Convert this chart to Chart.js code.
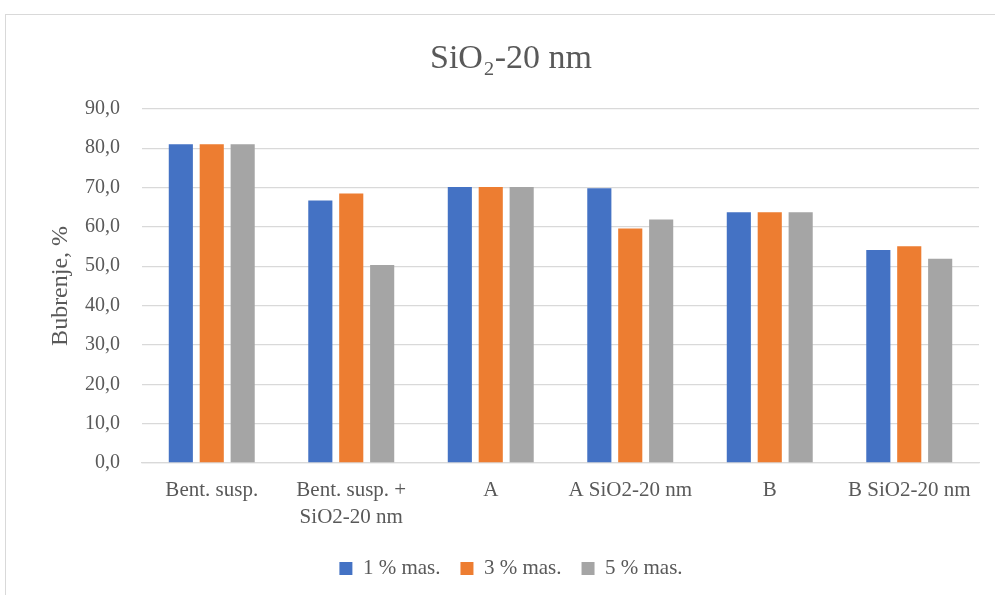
<!DOCTYPE html>
<html>
<head>
<meta charset="utf-8">
<script src="https://cdn.jsdelivr.net/npm/chart.js@4"></script>
<style>
  html, body { margin: 0; padding: 0; overflow: hidden; background: #fff; }
  #wrap { position: relative; width: 995px; height: 595px; overflow: hidden; }
  canvas { position: absolute; left: 0; top: 0; }
</style>
</head>
<body>
<div id="wrap"><canvas id="chart" width="1022" height="595"></canvas></div>
<script>
// data
const categories = ['Bent. susp.', ['Bent. susp. +', 'SiO2-20 nm'], 'A', 'A SiO2-20 nm', 'B', 'B SiO2-20 nm'];
const seriesNames = ['1 % mas.', '3 % mas.', '5 % mas.'];
const mas1 = [81.0, 66.7, 70.1, 69.8, 63.7, 54.1];
const mas3 = [81.0, 68.5, 70.1, 59.6, 63.7, 55.1];
const mas5 = [81.0, 50.3, 70.1, 61.9, 63.7, 51.9];
const colors = ['#4472C4', '#ED7D31', '#A5A5A5'];

const serif = "'Liberation Serif', 'Times New Roman', serif";
const textColor = '#595959';

// light frame like the Excel chart box
const framePlugin = {
  id: 'frame',
  beforeDraw(chart) {
    const c = chart.ctx;
    c.save();
    c.fillStyle = '#fff';
    c.fillRect(0, 0, chart.width, chart.height);
    c.strokeStyle = '#d9d9d9';
    c.lineWidth = 1;
    c.strokeRect(5.5, 14.5, 1100, 700);
    c.restore();
  }
};

new Chart(document.getElementById('chart'), {
  type: 'bar',
  data: {
    labels: categories,
    datasets: [mas1, mas3, mas5].map((d, i) => ({
      label: seriesNames[i],
      data: d,
      backgroundColor: colors[i],
      categoryPercentage: 0.665,
      barPercentage: 0.78
    }))
  },
  options: {
    responsive: false,
    animation: false,
    layout: { padding: { left: 0, right: 0, top: 0, bottom: 6 } },
    plugins: {
      title: {
        display: true,
        text: 'SiO\u2082-20 nm',
        color: textColor,
        font: { family: serif, size: 34, weight: 'normal' },
        padding: { top: 39, bottom: 29 }
      },
      legend: {
        position: 'bottom',
        labels: {
          color: textColor,
          font: { family: serif, size: 21 },
          boxWidth: 13,
          boxHeight: 13,
          padding: 20
        }
      },
      tooltip: { enabled: false }
    },
    scales: {
      x: {
        grid: { display: false, drawTicks: false },
        border: { color: '#d9d9d9', width: 1.3 },
        ticks: {
          color: textColor,
          font: { family: serif, size: 21, lineHeight: 1.3 },
          padding: 14,
          maxRotation: 0,
          autoSkip: false
        },
        afterFit(s) { s.height = 75; }
      },
      y: {
        min: 0,
        max: 90,
        ticks: {
          stepSize: 10,
          color: textColor,
          font: { family: serif, size: 20 },
          padding: 22,
          callback: v => v.toFixed(1).replace('.', ',')
        },
        grid: { color: '#d9d9d9', lineWidth: 1.3, drawTicks: false },
        border: { display: false },
        title: {
          display: true,
          text: 'Bubrenje, %',
          color: textColor,
          font: { family: serif, size: 24 },
          padding: { top: 46, bottom: 0 }
        },
        afterFit(s) { s.width = 142; }
      },
      // empty spacer on the right so title and legend centre like the original
      spacer: {
        position: 'right',
        display: true,
        grid: { drawOnChartArea: false, display: false },
        border: { display: false },
        ticks: { display: false },
        afterFit(s) { s.width = 43; }
      }
    }
  },
  plugins: [framePlugin]
});
</script>
</body>
</html>
